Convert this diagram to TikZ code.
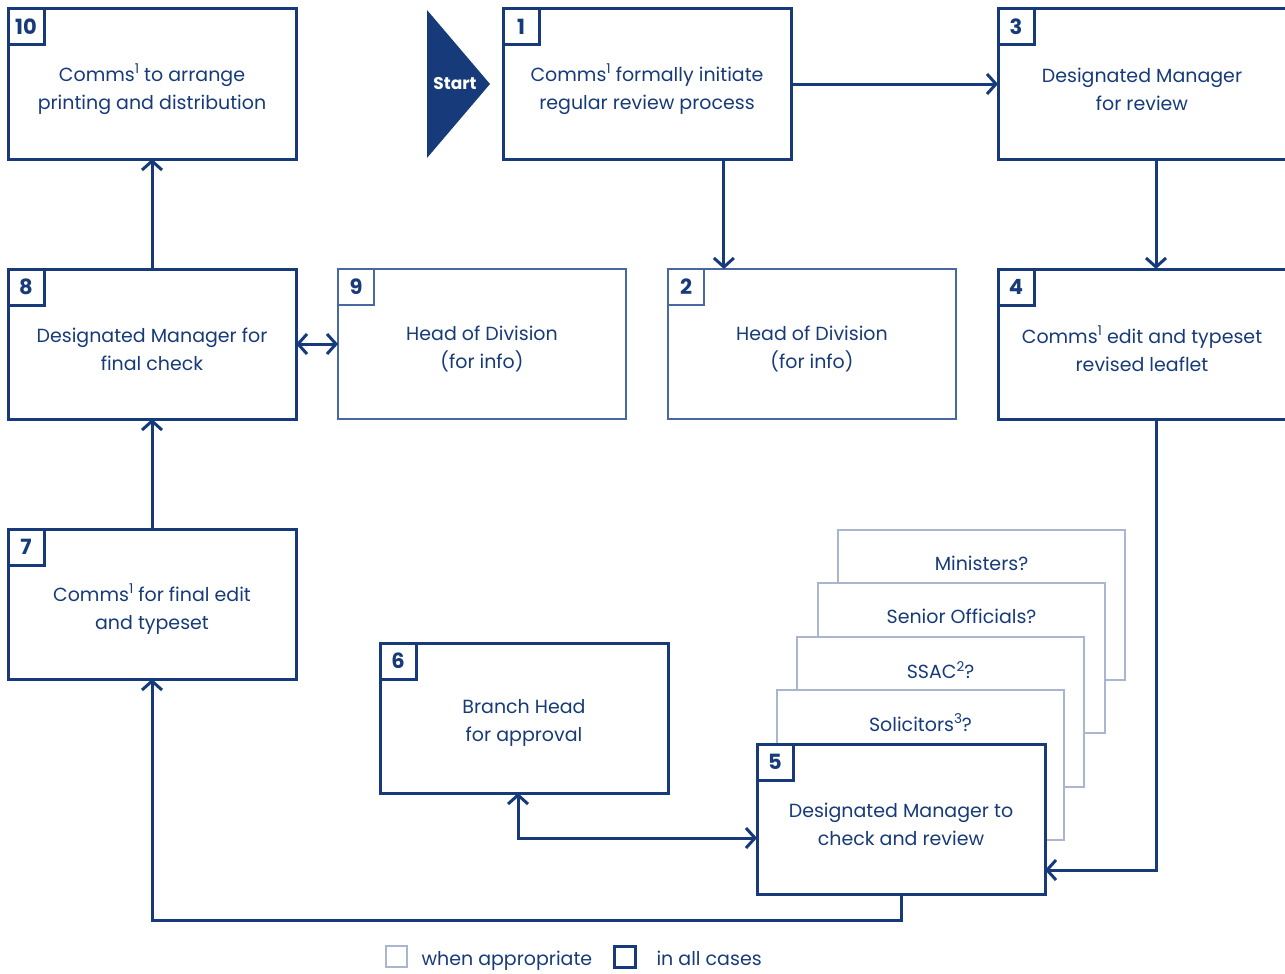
\documentclass[tikz,border=0pt]{standalone}
\usepackage{fontspec}
\setmainfont{Poppins}
\usetikzlibrary{arrows.meta,calc}
\definecolor{navy}{HTML}{173B7A}
\definecolor{midblue}{HTML}{4A68A0}
\definecolor{paleblue}{HTML}{A9B6CE}
% raised footnote marker
\newcommand\fnmark[1]{\raisebox{0.75ex}{\fontsize{13.5}{13.5}\selectfont #1}}
\begin{document}
\begin{tikzpicture}[x=1pt,y=-1pt,
  stage/.style={draw=navy,line width=3pt,fill=white,minimum width=288pt,minimum height=150pt,
    outer sep=0pt,inner sep=0pt,anchor=north west},
  infostage/.style={stage,draw=midblue,line width=2.3pt},
  stagetext/.style={align=center,text=navy,font=\fontsize{19}{28}\selectfont,anchor=center},
  optbox/.style={draw=paleblue,line width=1.7pt,fill=white,minimum width=287pt,minimum height=150pt,
    outer sep=0pt,inner sep=0pt,anchor=north west},
  optlabel/.style={text=navy,font=\fontsize{19}{22}\selectfont,anchor=center},
  numtag/.style={draw=navy,line width=3pt,minimum size=36pt,inner sep=0pt,outer sep=0pt,
    anchor=north west,text=navy,font=\fontsize{21}{21}\selectfont\bfseries},
  infotag/.style={numtag,draw=midblue,line width=2.3pt},
  flow/.style={draw=navy,line width=3pt,-{Straight Barb[length=9pt,width=20pt]}},
  twoway/.style={draw=navy,line width=3pt,{Straight Barb[length=9pt,width=20pt]}-{Straight Barb[length=9pt,width=20pt]}},
  legendtxt/.style={text=navy,font=\fontsize{19}{22}\selectfont,anchor=base west}
]
\useasboundingbox (0,0) rectangle (1285,974);

% start marker
\fill[navy] (427,10) -- (490,84) -- (427,158) -- cycle;
\node[text=white,font=\fontsize{17}{17}\selectfont\bfseries] (start) at (455,84) {Start};

% top row
\node[stage] (b10) at (8,9) {};
\node[stagetext] (t10) at ($(b10.center)+(0,5)$) {Comms\fnmark{1} to arrange\\printing and distribution};
\node[numtag] (n10) at (b10.north west) {10};
\node[stage] (b1) at (503,9) {};
\node[stagetext] (t1) at ($(b1.center)+(0,5)$) {Comms\fnmark{1} formally initiate\\regular review process};
\node[numtag] (n1) at (b1.north west) {1};
\node[stage] (b3) at (998,9) {};
\node[stagetext] (t3) at ($(b3.center)+(0,5)$) {Designated Manager\\for review};
\node[numtag] (n3) at (b3.north west) {3};

% second row
\node[stage] (b8) at (8,269) {};
\node[stagetext] (t8) at ($(b8.center)+(0,5)$) {Designated Manager for\\final check};
\node[numtag] (n8) at (b8.north west) {8};
\node[infostage] (b9) at (338,269) {};
\node[stagetext] (t9) at ($(b9.center)+(0,5)$) {Head of Division\\(for info)};
\node[infotag] (n9) at (b9.north west) {9};
\node[infostage] (b2) at (668,269) {};
\node[stagetext] (t2) at ($(b2.center)+(0,5)$) {Head of Division\\(for info)};
\node[infotag] (n2) at (b2.north west) {2};
\node[stage] (b4) at (998,269) {};
\node[stagetext] (t4) at ($(b4.center)+(0,5)$) {Comms\fnmark{1} edit and typeset\\revised leaflet};
\node[numtag] (n4) at (b4.north west) {4};

% third row
\node[stage] (b7) at (8,529) {};
\node[stagetext] (t7) at ($(b7.center)+(0,5)$) {Comms\fnmark{1} for final edit\\and typeset};
\node[numtag] (n7) at (b7.north west) {7};
\node[stage] (b6) at (380,643) {};
\node[stagetext] (t6) at ($(b6.center)+(0,5)$) {Branch Head\\for approval};
\node[numtag] (n6) at (b6.north west) {6};

% optional consultees, stacked behind step 5
\node[optbox] (m) at (838,530) {};
\node[optlabel] (tm) at ($(m.north)+(0,33)$) {Ministers?};
\node[optbox] (so) at (818,583) {};
\node[optlabel] (tso) at ($(so.north)+(0,33)$) {Senior Officials?};
\node[optbox] (ss) at (797,637) {};
\node[optlabel] (tss) at ($(ss.north)+(0,33)$) {SSAC\fnmark{2}?};
\node[optbox] (sol) at (777,690) {};
\node[optlabel] (tsol) at ($(sol.north)+(0,33)$) {Solicitors\fnmark{3}?};

\node[stage] (b5) at (757,744) {};
\node[stagetext] (t5) at ($(b5.center)+(0,5)$) {Designated Manager to\\check and review};
\node[numtag] (n5) at (b5.north west) {5};

% connectors
\draw[flow] (b1.east) -- (b3.west);
\coordinate (c12) at ($(b1.south west)!0.767!(b1.south east)$);
\draw[flow] (c12) -- (c12 |- b2.north);
\coordinate (c34) at ($(b3.south)+(14,0)$);
\draw[flow] (c34) -- (c34 |- b4.north);
\coordinate (c45) at ($(b4.south)+(14,0)$);
\coordinate (c45end) at ($(b5.east)+(0,51)$);
\draw[flow] (c45) -- (c45 |- c45end) -- (c45end);
\coordinate (c56) at ($(b5.west)+(0,19)$);
\coordinate (c65) at ($(b6.south)+(-6,0)$);
\draw[twoway] (c56) -- (c56 -| c65) -- (c65);
\coordinate (c57) at ($(b5.south)+(0,26)$);
\draw[flow] (b5.south) -- (c57) -- (c57 -| b7.south) -- (b7.south);
\draw[flow] (b7.north) -- (b8.south);
\draw[twoway] (b8.east) -- (b9.west);
\draw[flow] (b8.north) -- (b10.south);

% key
\node[draw=paleblue,line width=1.7pt,minimum size=21pt,inner sep=0pt] (k1) at (396.5,956.5) {};
\node[legendtxt] (k1t) at (418,965) {when appropriate};
\node[draw=navy,line width=3pt,minimum size=21pt,inner sep=0pt] (k2) at (625,956.5) {};
\node[legendtxt] (k2t) at (653,965) {in all cases};
\end{tikzpicture}
\end{document}
